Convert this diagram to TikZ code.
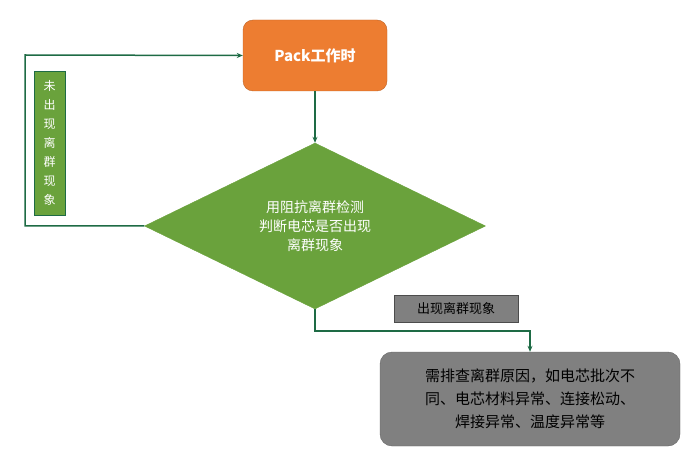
\documentclass[tikz,border=0pt]{standalone}
\usepackage{fontspec}
\setmainfont{Noto Sans CJK SC}
\usetikzlibrary{shapes.geometric,arrows.meta}
\definecolor{gfill}{HTML}{6AA23C}
\definecolor{gline}{HTML}{1E6B45}
\definecolor{ofill}{HTML}{ED7D31}
\definecolor{grayf}{HTML}{808080}
\begin{document}
\begin{tikzpicture}[x=1pt,y=-1pt,
  conn/.style={draw=gline,line width=1.5pt,-{Stealth[length=6pt,width=5pt]}},
  txt/.style={font=\fontsize{14}{19}\selectfont,align=center}]
\useasboundingbox (0,0) rectangle (696,465);
\node[draw=ofill!80!black,fill=ofill,rounded corners=10pt,minimum width=144pt,minimum height=71pt,text=white,txt,font=\fontsize{15}{19}\selectfont\bfseries] (pack) at (315,55.5) {Pack工作时};
\node[diamond,draw=gfill,fill=gfill,minimum width=341pt,minimum height=166pt,inner sep=0pt,text=white,txt] (dia) at (315,226) {用阻抗离群检测\\判断电芯是否出现\\离群现象};
\node[draw=gline,fill=gfill,minimum width=31pt,minimum height=144pt,text=white,txt,font=\fontsize{12}{19}\selectfont] (no) at (49.5,143) {未\\出\\现\\离\\群\\现\\象};
\node[draw=black!70,fill=grayf,minimum width=124pt,minimum height=27pt,txt,font=\fontsize{13}{16}\selectfont] (yes) at (456,308.5) {出现离群现象};
\node[draw=black!60,fill=grayf,rounded corners=12pt,minimum width=300pt,minimum height=94pt,txt,font=\fontsize{15}{23}\selectfont] (res) at (530,399) {需排查离群原因，如电芯批次不\\同、电芯材料异常、连接松动、\\焊接异常、温度异常等};
\coordinate (c1) at (25,226);
\coordinate (c2) at (25,55);
\draw[conn] (dia.west) -- (c1) -- (c2) -- (pack.west);
\draw[conn] (pack.south) -- (dia.north);
\coordinate (d1) at (315,331);
\coordinate (d2) at (530,331);
\draw[conn] (dia.south) -- (d1) -- (d2) -- (res.north);
\end{tikzpicture}
\end{document}
